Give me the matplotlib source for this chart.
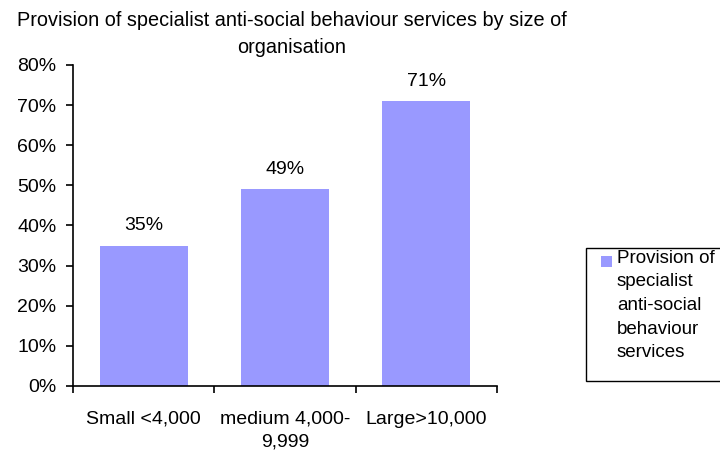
import matplotlib
matplotlib.use("Agg")
import matplotlib.pyplot as plt
from matplotlib.patches import Rectangle

plt.rcParams['font.family'] = ['Liberation Sans', 'DejaVu Sans']

categories = ["Small <4,000", "medium 4,000-\n9,999", "Large>10,000"]
values = [35, 49, 71]
series_name = "Provision of\nspecialist\nanti-social\nbehaviour\nservices"
title = "Provision of specialist anti-social behaviour services by size of\norganisation"
bar_color = "#9999FF"
W, H = 720, 454

fig = plt.figure(figsize=(7.2, 4.54), dpi=100)
ax = fig.add_axes([73 / W, 68 / H, 424 / W, 321 / H])

x = range(len(values))
ax.bar(x, values, width=0.625, color=bar_color)

for xi, v in zip(x, values):
    ax.annotate(f"{v}%", (xi, v), xytext=(0, 8), textcoords="offset points",
                ha="center", va="bottom", fontsize=14)

ax.set_xlim(-0.5, len(values) - 0.5)
ax.set_ylim(0, 80)
ax.set_yticks(range(0, 81, 10))
ax.set_yticklabels([f"{t}%" for t in range(0, 81, 10)], fontsize=14)

# category labels sit between boundary ticks, Excel style
ax.set_xticks([-0.5, 0.5, 1.5, 2.5])
ax.set_xticklabels([])
ax.set_xticks(list(x), minor=True)
ax.set_xticklabels(categories, minor=True, fontsize=14, linespacing=1.4)
ax.tick_params(axis="x", which="minor", length=0, pad=18)
ax.tick_params(axis="x", which="major", length=5, direction="out", width=1.2)
ax.tick_params(axis="y", length=5, direction="out", width=1.2, pad=7)

for s in ["top", "right"]:
    ax.spines[s].set_visible(False)
for s in ["left", "bottom"]:
    ax.spines[s].set_linewidth(1.2)

fig.text(292 / W, 1 - 34 / H, title, ha="center", va="center", fontsize=14.3,
         linespacing=1.55)

# legend box drawn by hand so the swatch lines up with the first text line
fig.patches.append(Rectangle((586 / W, 1 - 381 / H), 140 / W, 133 / H,
                             transform=fig.transFigure, facecolor="white",
                             edgecolor="black", linewidth=1.0))
fig.patches.append(Rectangle((601 / W, 1 - 267 / H), 11 / W, 11 / H,
                             transform=fig.transFigure, facecolor=bar_color,
                             edgecolor="none"))
fig.text(617 / W, 1 - 250 / H, series_name, ha="left", va="top", fontsize=13.5,
         linespacing=1.5)

fig.savefig("out.png", dpi=100)
